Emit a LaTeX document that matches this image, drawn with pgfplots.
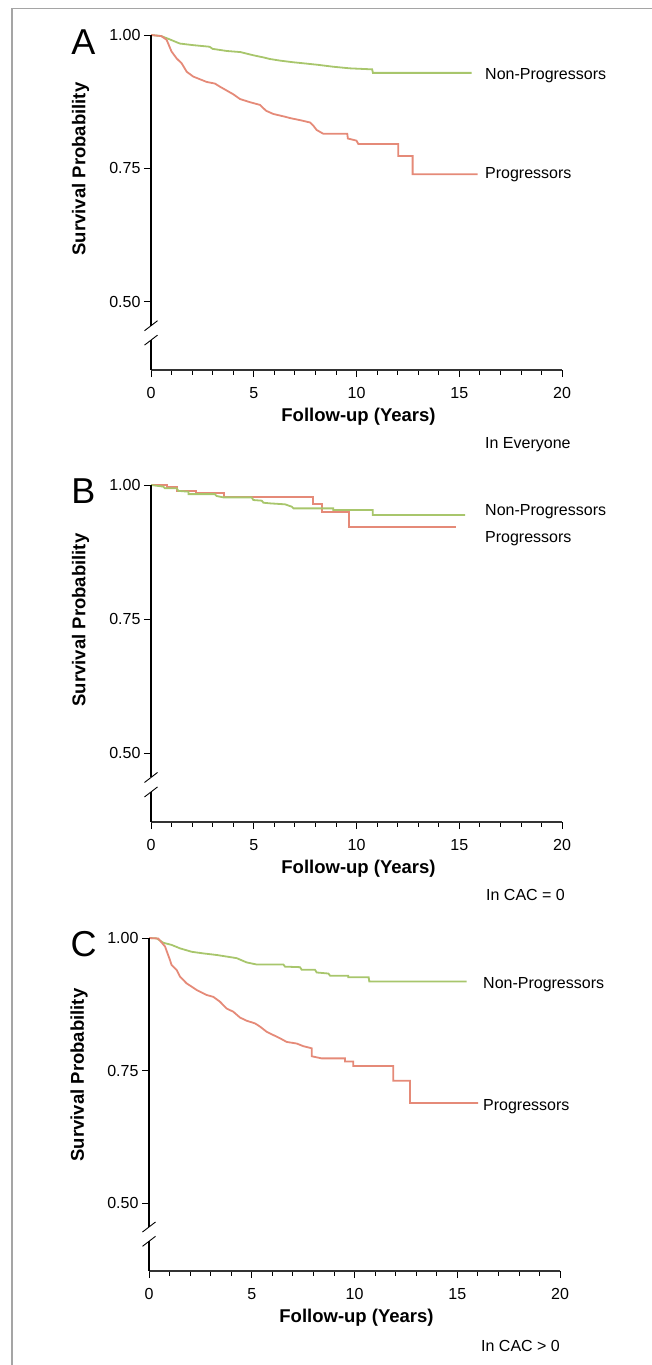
\documentclass[border=0pt]{standalone}
\usepackage{fontspec}
\setmainfont{Liberation Sans}
\usepackage{pgfplots}
\pgfplotsset{compat=1.18}
\definecolor{npgreen}{RGB}{168,198,108}
\definecolor{pgred}{RGB}{229,138,120}
\definecolor{framegray}{RGB}{165,165,165}

\pgfplotsset{kmaxis/.style={
  scale only axis, width=411pt,
  xmin=0, xmax=20, ymin=0.372, ymax=1,
  enlargelimits=false, clip=false,
  axis x line=bottom, axis y line=left,
  x axis line style={-, black!80, line width=1.1pt},
  y axis line style={-, draw=none},
  tick align=outside,
  xtick={0,5,10,15,20}, xticklabels={0,5,10,15,20},
  minor x tick num=4,
  ytick={0.5,0.75,1}, yticklabels={0.50,0.75,1.00},
  major tick length=7pt, minor tick length=4.5pt,
  tick style={black, line width=0.8pt},
  ticklabel style={font=\fontsize{16}{18}\selectfont},
  xticklabel style={yshift=-7pt},
  /pgf/number format/assume math mode=true,
}}
\newcommand{\brokenyaxis}{%
  \draw[line width=1.1pt] (axis cs:0,1) -- (axis cs:0,0.455);
  \draw[line width=1.1pt] (axis cs:0,0.428) -- (axis cs:0,0.372);
  \draw[line width=0.9pt] ([shift={(-6.5pt,-5pt)}]axis cs:0,0.455) -- ([shift={(6.5pt,5pt)}]axis cs:0,0.455);
  \draw[line width=0.9pt] ([shift={(-6.5pt,-5pt)}]axis cs:0,0.428) -- ([shift={(6.5pt,5pt)}]axis cs:0,0.428);
}
\newcommand{\annot}{\fontsize{16}{18}\selectfont}
\newcommand{\axlab}{\bfseries\fontsize{18.5}{20}\selectfont}
\newcommand{\panlab}{\fontsize{36}{36}\selectfont}

\begin{document}
\begin{tikzpicture}
\useasboundingbox (0,0) rectangle (651pt,-1365pt);
\draw[framegray, line width=1.6pt] (12pt,-1366pt) -- (12pt,-8.5pt) -- (652pt,-8.5pt);

% A: everyone
\begin{axis}[kmaxis, height=335pt, at={(151pt,-370pt)}, anchor=south west]
\addplot[npgreen, line width=1.8pt] coordinates {
 (0,1.0) (0.5,0.998) (0.9,0.992) (1.4,0.984) (2.05,0.981) (2.85,0.978)
 (3.0,0.974) (3.7,0.970) (4.35,0.968) (4.98,0.962) (5.47,0.958) (5.79,0.955)
 (6.28,0.952) (6.9,0.949) (7.41,0.947) (8.15,0.944) (8.87,0.9405) (9.68,0.9375)
 (10.76,0.9356) (10.80,0.929) (15.6,0.929)};
\addplot[pgred, line width=1.8pt] coordinates {
 (0,1.0) (0.5,0.998) (0.76,0.991) (1.0,0.969) (1.25,0.956) (1.49,0.947)
 (1.74,0.931) (2.06,0.922) (2.71,0.912) (3.11,0.909) (3.36,0.903) (3.68,0.896)
 (4.0,0.889) (4.33,0.880) (4.82,0.874) (5.3,0.869) (5.6,0.858) (5.95,0.852)
 (6.5,0.847) (6.8,0.844) (7.3,0.840) (7.74,0.836) (7.9,0.830) (8.06,0.822)
 (8.38,0.815) (9.55,0.815) (9.58,0.806) (10.0,0.802) (10.09,0.7955)
 (12.03,0.7955) (12.03,0.773) (12.73,0.773) (12.73,0.739) (15.9,0.739)};
\brokenyaxis
\end{axis}

% B: CAC = 0
\begin{axis}[kmaxis, height=337pt, at={(151pt,-822pt)}, anchor=south west]
\addplot[pgred, line width=1.8pt] coordinates {
 (0,1) (0.78,1) (0.78,0.996) (1.25,0.996) (1.25,0.989) (2.19,0.989)
 (2.19,0.9845) (3.55,0.9845) (3.55,0.978) (7.9,0.978) (7.9,0.965) (8.31,0.965)
 (8.31,0.950) (9.65,0.950) (9.65,0.9214) (14.84,0.9214)};
\addplot[npgreen, line width=1.8pt] coordinates {
 (0,1) (0.6,0.997) (0.68,0.994) (1.25,0.994) (1.33,0.989) (1.82,0.9876)
 (1.82,0.983) (3.11,0.983) (3.19,0.9795) (3.52,0.977) (4.9,0.977) (4.98,0.972)
 (5.39,0.9708) (5.47,0.967) (5.79,0.9658) (6.52,0.964) (6.85,0.9596)
 (6.93,0.9565) (8.87,0.9565) (8.87,0.9533) (10.79,0.9533) (10.79,0.944)
 (15.28,0.944)};
\brokenyaxis
\end{axis}

% C: CAC > 0
\begin{axis}[kmaxis, height=333pt, at={(149pt,-1271pt)}, anchor=south west]
\addplot[npgreen, line width=1.8pt] coordinates {
 (0,1) (0.37,0.9994) (0.70,0.991) (1.10,0.987) (1.51,0.9805) (2.08,0.974)
 (2.64,0.971) (3.29,0.968) (3.78,0.965) (4.27,0.962) (4.75,0.954) (5.24,0.950)
 (6.54,0.950) (6.62,0.946) (7.35,0.945) (7.43,0.940) (8.08,0.940) (8.16,0.935)
 (8.73,0.933) (8.81,0.929) (9.70,0.929) (9.70,0.926) (10.69,0.926)
 (10.72,0.918) (15.46,0.918)};
\addplot[pgred, line width=1.8pt] coordinates {
 (0,1) (0.45,0.999) (0.78,0.984) (1.02,0.9585) (1.10,0.949) (1.35,0.9396)
 (1.51,0.927) (1.83,0.9145) (2.32,0.902) (2.81,0.8925) (3.13,0.889)
 (3.45,0.880) (3.78,0.867) (4.10,0.861) (4.43,0.850) (4.75,0.844) (5.16,0.839)
 (5.40,0.833) (5.73,0.823) (6.05,0.817) (6.37,0.811) (6.70,0.804) (7.19,0.801)
 (7.51,0.796) (7.92,0.792) (7.92,0.777) (8.40,0.773) (9.54,0.773) (9.54,0.767)
 (9.94,0.767) (9.94,0.7585) (11.89,0.7585) (11.89,0.731) (12.70,0.731)
 (12.70,0.689) (16.02,0.689)};
\brokenyaxis
\end{axis}

% panel letters
\node[inner sep=0, font=\panlab] at (83.5pt,-42pt) {A};
\node[inner sep=0, font=\panlab] at (83.5pt,-491pt) {B};
\node[inner sep=0, font=\panlab] at (83.5pt,-944pt) {C};
% y labels
\node[rotate=90, inner sep=0, font=\axlab] at (80.5pt,-169pt) {Survival Probability};
\node[rotate=90, inner sep=0, font=\axlab] at (80.5pt,-620pt) {Survival Probability};
\node[rotate=90, inner sep=0, font=\axlab] at (79pt,-1075pt) {Survival Probability};
% x labels
\node[anchor=base, inner sep=0, font=\axlab] at (358.5pt,-421.7pt) {Follow-up (Years)};
\node[anchor=base, inner sep=0, font=\axlab] at (358.5pt,-873.7pt) {Follow-up (Years)};
\node[anchor=base, inner sep=0, font=\axlab] at (356.5pt,-1322pt) {Follow-up (Years)};
% curve names
\node[anchor=base west, inner sep=0, font=\annot] at (485pt,-79.3pt) {Non-Progressors};
\node[anchor=base west, inner sep=0, font=\annot] at (485pt,-178.3pt) {Progressors};
\node[anchor=base west, inner sep=0, font=\annot] at (485pt,-515.5pt) {Non-Progressors};
\node[anchor=base west, inner sep=0, font=\annot] at (485pt,-542.5pt) {Progressors};
\node[anchor=base west, inner sep=0, font=\annot] at (483pt,-988.3pt) {Non-Progressors};
\node[anchor=base west, inner sep=0, font=\annot] at (483pt,-1110pt) {Progressors};
% subsets
\node[anchor=base west, inner sep=0, font=\annot] at (485pt,-448.3pt) {In Everyone};
\node[anchor=base west, inner sep=0, font=\annot] at (486pt,-900.3pt) {In CAC = 0};
\node[anchor=base west, inner sep=0, font=\annot] at (481pt,-1351pt) {In CAC > 0};
\end{tikzpicture}
\end{document}
